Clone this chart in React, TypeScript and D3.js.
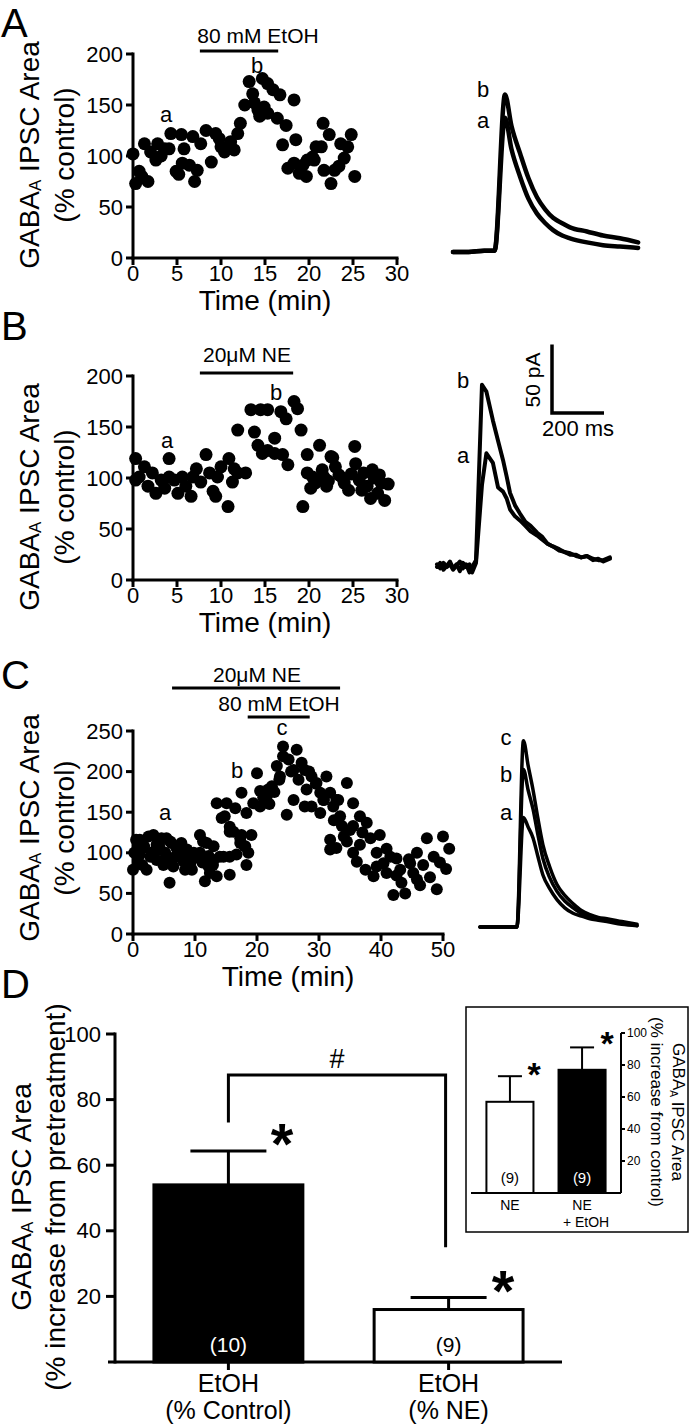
import React from 'react';
import * as d3 from 'd3';

const FONT = '"Liberation Sans", Arial, Helvetica, sans-serif';

// ---- panel A: 80 mM EtOH, [time (min), IPSC area (% control)] ----
const aPoints: [number, number][] = [
  [0, 102], [0.3, 73], [0.7, 85], [1.0, 80], [1.3, 112], [1.7, 75], [2.0, 104], [2.6, 96], [2.8, 112],
  [3.2, 100], [3.6, 107], [4.1, 107], [4.3, 122], [4.9, 85], [5.2, 82], [5.5, 121], [5.6, 93], [5.8, 107],
  [6.4, 91], [6.8, 119], [7.0, 75], [7.3, 86], [7.7, 112], [8.3, 125], [8.9, 94], [9.4, 122], [9.8, 117],
  [10.0, 109], [10.4, 104], [11.1, 114], [11.5, 106], [11.9, 122], [12.2, 132], [12.7, 150], [13.2, 173],
  [13.6, 161], [13.8, 152], [14.2, 145], [14.4, 139], [14.7, 176], [14.9, 148], [15.3, 142], [15.3, 171],
  [15.9, 165], [16.4, 137], [16.7, 160], [17.0, 111], [17.4, 130], [17.6, 88], [18.3, 155], [18.3, 93],
  [18.5, 116], [18.9, 83], [19.3, 91], [19.7, 80], [19.8, 96], [20.4, 99], [20.6, 96], [20.8, 109],
  [21.4, 109], [21.6, 132], [21.7, 86], [22.3, 121], [22.5, 73], [22.9, 86], [23.4, 90], [23.6, 112],
  [24.0, 98], [24.4, 109], [24.8, 121], [25.2, 80],
];
const aTimeTicks = [0, 5, 10, 15, 20, 25, 30];
const aAreaTicks = [0, 50, 100, 150, 200];

// ---- panel B: 20 uM NE ----
const bPoints: [number, number][] = [
  [0.3, 119], [0.7, 101], [0.3, 98], [1.3, 111], [1.7, 92], [2.2, 105], [2.6, 85], [3.2, 98], [3.6, 90],
  [4.1, 119], [4.1, 101], [4.7, 98], [5.1, 85], [5.6, 101], [6.0, 92], [6.6, 82], [6.8, 101], [7.2, 109],
  [7.7, 96], [8.3, 123], [8.7, 105], [9.1, 87], [9.4, 82], [9.6, 101], [10.0, 111], [10.8, 72], [10.9, 119],
  [11.3, 96], [11.5, 109], [11.9, 105], [12.8, 105], [11.9, 147], [13.4, 167], [13.8, 145], [14.2, 132],
  [14.5, 167], [15.3, 167], [14.7, 124], [15.3, 127], [16.1, 139], [16.1, 124], [16.8, 165], [17.4, 158],
  [17.6, 113], [17.0, 123], [18.3, 175], [18.7, 168], [19.1, 147], [19.8, 123], [19.3, 72], [19.8, 105],
  [20.4, 101], [20.2, 90], [20.7, 95], [21.2, 132], [21.0, 98], [21.5, 108], [21.7, 101], [22.0, 92],
  [22.2, 97], [22.5, 121], [22.7, 120], [23.0, 111], [23.4, 103], [23.8, 100], [24.0, 95], [24.5, 88],
  [24.8, 104], [25.2, 131], [25.3, 114], [25.7, 98], [26.0, 88], [26.2, 105], [26.6, 92], [27.0, 80],
  [27.2, 108], [27.4, 100], [27.8, 85], [28.0, 103], [28.2, 95], [28.6, 78], [29.0, 94],
];
const bTimeTicks = [0, 5, 10, 15, 20, 25, 30];
const bAreaTicks = [0, 50, 100, 150, 200];

// ---- panel C: NE then NE + EtOH ----
const cPoints: [number, number][] = [
  [0, 79], [0.2, 100], [0.5, 116], [0.8, 90], [1.1, 98], [1.1, 116], [1.1, 108], [1.4, 105], [1.5, 85],
  [1.8, 108], [2.2, 79], [2.5, 120], [2.8, 95], [3.0, 100], [3.3, 122], [3.5, 102], [3.8, 91], [3.8, 110],
  [4.2, 110], [4.4, 104], [4.6, 118], [4.9, 85], [5.2, 100], [5.4, 118], [5.4, 93], [5.9, 63], [6.0, 114],
  [6.2, 112], [6.5, 83], [6.8, 95], [7.0, 106], [7.2, 105], [7.6, 100], [7.8, 112], [8.1, 90], [8.4, 79],
  [8.7, 93], [8.7, 104], [8.8, 98], [9.2, 85], [9.5, 79], [9.5, 91], [9.8, 100], [10.3, 95], [10.8, 122],
  [10.8, 100], [11.2, 88], [11.3, 114], [11.6, 65], [11.9, 112], [12.2, 96], [12.2, 83], [12.4, 75],
  [12.9, 85], [13.0, 91], [13.0, 108], [13.5, 71], [13.5, 161], [14.0, 95], [14.3, 143], [14.6, 95],
  [14.8, 145], [15.1, 161], [15.6, 73], [15.6, 95], [15.6, 126], [15.6, 132], [16.2, 126], [16.5, 155],
  [16.7, 98], [17.3, 112], [17.3, 118], [17.5, 174], [17.5, 122], [18.0, 108], [18.1, 108], [18.3, 85],
  [18.3, 149], [18.6, 100], [19.1, 122], [19.4, 161], [20.0, 198], [20.5, 157], [20.5, 176], [21.0, 168],
  [21.6, 170], [21.8, 178], [22.0, 160], [22.4, 182], [22.8, 175], [23.2, 207], [23.6, 190], [23.7, 194],
  [24.2, 219], [24.2, 231], [24.8, 147], [25.1, 215], [25.5, 200], [25.9, 165], [25.9, 202], [26.4, 227],
  [26.7, 190], [27.2, 211], [27.7, 157], [27.7, 202], [28.0, 178], [28.4, 200], [28.8, 194], [28.8, 157],
  [29.5, 185], [29.6, 186], [30.2, 174], [30.2, 149], [30.7, 165], [30.8, 165], [31.2, 194], [31.8, 174],
  [31.8, 116], [31.8, 104], [32.3, 157], [32.4, 140], [32.8, 165], [32.8, 106], [33.1, 165], [33.4, 145],
  [33.7, 133], [34.0, 120], [34.5, 186], [34.5, 114], [35.0, 128], [35.5, 133], [35.5, 161], [35.5, 100],
  [36.1, 89], [36.6, 110], [36.6, 145], [37.0, 125], [37.5, 79], [37.7, 137], [38.3, 118], [38.8, 71],
  [39.3, 100], [39.3, 83], [39.8, 122], [40.4, 87], [40.9, 105], [40.9, 75], [41.5, 95], [42.0, 48],
  [42.5, 72], [42.5, 93], [43.1, 79], [43.3, 63], [43.9, 50], [44.5, 92], [44.7, 87], [45.2, 75],
  [45.8, 100], [45.8, 67], [46.3, 60], [46.8, 85], [47.4, 118], [47.9, 70], [48.5, 95], [49.0, 55],
  [49.5, 88], [50.0, 120], [50.5, 80], [51.0, 105],
];
const cTimeTicks = [0, 10, 20, 30, 40, 50];
const cAreaTicks = [0, 50, 100, 150, 200, 250];

// ---- example IPSC traces (ms, pA) ----
const aTraceMs = [0, 60, 120, 160, 200, 225, 258, 290, 323, 355, 385, 420, 450, 515, 577, 642, 712];
const aTraceB = [0, 0, 1, 1, 115, 92, 72, 54, 40, 31, 25, 21, 18, 15, 12, 10, 7];
const aTraceA = [0, 0, 1, 1, 98, 75, 55, 39, 28, 21, 16, 12, 10, 7, 5, 4, 3];

const bTraceMs = [0, 12, 25, 38, 50, 62, 75, 88, 100, 112, 125, 135, 150, 173, 190, 215, 235, 254, 268, 281,
  300, 319, 340, 360, 385, 405, 425, 446, 470, 490, 512, 535, 555, 577, 600, 620, 640, 665];
const bTraceB = [2, -1, 3, 0, 2, -2, 1, 4, -1, 2, -4, 0, 5, 133, 128, 107, 92, 78, 66, 54,
  45, 39, 33, 30, 25, 22, 17, 15, 13, 11, 10, 8, 7, 8, 6, 5, 5, 7];
const bTraceA = [0, 3, -2, 1, 4, -1, 2, -3, 3, 0, 2, -4, 3, 60, 83, 76, 58, 55, 50, 42,
  37, 34, 30, 26, 23, 20, 17, 15, 12, 11, 9, 9, 7, 8, 5, 6, 4, 6];

const cTraceMs = [0, 40, 80, 120, 142, 167, 185, 204, 222, 242, 268, 296, 326, 358, 390, 423, 455, 488, 545, 604];
const cTraceC = [0, 0, 0, 0, 0, 136, 118, 100, 80, 60, 44, 31, 23, 17, 12, 9, 7, 6, 4, 2];
const cTraceB = [0, 0, 0, 0, 0, 115, 100, 86, 68, 50, 36, 26, 19, 14, 10, 8, 6, 5, 3, 1];
const cTraceA = [0, 0, 0, 0, 0, 80, 73, 65, 52, 38, 28, 20, 14, 10, 8, 6, 5, 4, 2, 1];

// ---- panel D: summary ----
const dCategories = ['EtOH|(% Control)', 'EtOH|(% NE)'];
const dMeans = [54, 16];
const dErrors = [10.3, 3.7];
const dN = ['(10)', '(9)'];
const dTicks = [20, 40, 60, 80, 100];

const insetCategories = ['NE', 'NE|+ EtOH'];
const insetMeans = [57, 77];
const insetErrors = [16, 14];
const insetN = ['(9)', '(9)'];
const insetTicks = [20, 40, 60, 80, 100];

type Scale = d3.ScaleLinear<number, number>;

function GabaLabel({ x, cy, second, size = 28, rot = -90, subShift = 6 }: any) {
  const sub = Math.round(size * 0.6);
  return (
    <g fontSize={size}>
      <text transform={`translate(${x},${cy}) rotate(${rot})`} textAnchor="middle" dominantBaseline="central">
        GABA<tspan fontSize={sub} dy={subShift}>A</tspan>
        <tspan dy={-subShift}> IPSC Area</tspan>
      </text>
      <text transform={`translate(${second.x},${cy}) rotate(${rot})`} textAnchor="middle" dominantBaseline="central">
        {second.text}
      </text>
    </g>
  );
}

function TimeAxes({ x, y, xTicks, yTicks }: { x: Scale; y: Scale; xTicks: number[]; yTicks: number[] }) {
  const [x0, x1] = x.range();
  const [y0, y1] = y.range();
  return (
    <g stroke="#000" strokeWidth={3}>
      <line x1={x0} x2={x0} y1={y0} y2={y1} strokeLinecap="square" />
      <line x1={x0} x2={x1} y1={y0} y2={y0} strokeLinecap="square" />
      {yTicks.map((v) => (
        <g key={'y' + v}>
          <line x1={x0 - 7} x2={x0} y1={y(v)} y2={y(v)} />
          <text x={x0 - 10} y={y(v)} textAnchor="end" dominantBaseline="central" fontSize={22} stroke="none" fill="#000">
            {v}
          </text>
        </g>
      ))}
      {xTicks.map((v) => (
        <g key={'x' + v}>
          <line x1={x(v)} x2={x(v)} y1={y0} y2={y0 + 7} />
          <text x={x(v)} y={y0 + 23} textAnchor="middle" fontSize={22} stroke="none" fill="#000">
            {v}
          </text>
        </g>
      ))}
      <text x={(x0 + x1) / 2} y={y0 + 52} textAnchor="middle" fontSize={28} stroke="none" fill="#000">
        Time (min)
      </text>
    </g>
  );
}

function Dots({ points, x, y, r }: { points: [number, number][]; x: Scale; y: Scale; r: number }) {
  return (
    <g fill="#000">
      {points.map(([t, v], i) => (
        <circle key={i} cx={x(t)} cy={y(v)} r={r} />
      ))}
    </g>
  );
}

function Traces({ ms, series, x0, base, width, curve }: any) {
  const x = d3.scaleLinear().domain([0, 1000]).range([x0, x0 + 260]);
  const y = d3.scaleLinear().domain([0, 100]).range([base, base - 137]);
  const line = d3
    .line<number>()
    .x((_, i) => x(ms[i]))
    .y((d) => y(d))
    .curve(curve);
  return (
    <g fill="none" stroke="#000" strokeWidth={width} strokeLinejoin="round" strokeLinecap="round">
      {series.map((s: number[], i: number) => (
        <path key={i} d={line(s) || ''} />
      ))}
    </g>
  );
}

function Bars({ x, y, cats, means, errs, ns, fills, barStroke, capHalf, nFont, nY, errW }: any) {
  return (
    <g>
      {cats.map((c: string, i: number) => {
        const cx = (x(c) as number) + x.bandwidth() / 2;
        const top = y(means[i]);
        const et = y(means[i] + errs[i]);
        return (
          <g key={c}>
            <line x1={cx} x2={cx} y1={top} y2={et} stroke="#000" strokeWidth={errW} />
            <line x1={cx - capHalf} x2={cx + capHalf} y1={et} y2={et} stroke="#000" strokeWidth={errW} />
            <rect
              x={(x(c) as number) + barStroke / 2}
              y={top}
              width={x.bandwidth() - barStroke}
              height={y(0) - top}
              fill={fills[i]}
              stroke="#000"
              strokeWidth={barStroke}
            />
            <text x={cx} y={nY} textAnchor="middle" fontSize={nFont} fill={fills[i] === '#000' ? '#fff' : '#000'}>
              {ns[i]}
            </text>
          </g>
        );
      })}
    </g>
  );
}

export default function App() {
  // panel A / B / C scales
  const xA = d3.scaleLinear().domain([0, 30]).range([133, 397]);
  const yA = d3.scaleLinear().domain([0, 200]).range([258, 54]);
  const xB = d3.scaleLinear().domain([0, 30]).range([133, 397]);
  const yB = d3.scaleLinear().domain([0, 200]).range([580, 376]);
  const xC = d3.scaleLinear().domain([0, 50]).range([133, 443]);
  const yC = d3.scaleLinear().domain([0, 250]).range([934, 731]);

  // panel D
  const xD = d3.scaleBand<string>().domain(dCategories).range([115, 562]).paddingInner(0.31).paddingOuter(0.17);
  const yD = d3.scaleLinear().domain([0, 100]).range([1362, 1034]);
  const dc = (i: number) => (xD(dCategories[i]) as number) + xD.bandwidth() / 2;

  // inset
  const xI = d3.scaleBand<string>().domain(insetCategories).range([471, 621]).paddingInner(0.32).paddingOuter(0.2);
  const yI = d3.scaleLinear().domain([0, 100]).range([1193, 1033]);
  const ic = (i: number) => (xI(insetCategories[i]) as number) + xI.bandwidth() / 2;

  // scale bar (same scale as traces)
  const sbX = d3.scaleLinear().domain([0, 1000]).range([0, 260]);
  const sbY = d3.scaleLinear().domain([0, 100]).range([0, 137]);

  return (
    <svg
      width={690}
      height={1426}
      style={{ position: 'absolute', left: 0, top: 0, background: '#fff' }}
      fontFamily={FONT}
    >
      <rect width={690} height={1426} fill="#fff" />

      {/* panel letters */}
      <g fontSize={40}>
        <text x={1} y={37}>A</text>
        <text x={1} y={340}>B</text>
        <text x={1} y={689}>C</text>
        <text x={1} y={998}>D</text>
      </g>

      {/* ---------- A ---------- */}
      <GabaLabel x={29} cy={155} second={{ x: 64, text: '(% control)' }} />
      <TimeAxes x={xA} y={yA} xTicks={aTimeTicks} yTicks={aAreaTicks} />
      <text x={258} y={43} textAnchor="middle" fontSize={21}>80 mM EtOH</text>
      <line x1={xA(7.6)} x2={xA(16.5)} y1={51} y2={51} stroke="#000" strokeWidth={3} />
      <text x={166} y={122} textAnchor="middle" fontSize={22}>a</text>
      <text x={257} y={73} textAnchor="middle" fontSize={22}>b</text>
      <Dots points={aPoints} x={xA} y={yA} r={6.5} />
      <Traces ms={aTraceMs} series={[aTraceA, aTraceB]} x0={453} base={252} width={4.5} curve={d3.curveMonotoneX} />
      <text x={483} y={97} textAnchor="middle" fontSize={22}>b</text>
      <text x={483} y={128} textAnchor="middle" fontSize={22}>a</text>

      {/* ---------- B ---------- */}
      <GabaLabel x={29} cy={497} second={{ x: 64, text: '(% control)' }} />
      <TimeAxes x={xB} y={yB} xTicks={bTimeTicks} yTicks={bAreaTicks} />
      <text x={247} y={362} textAnchor="middle" fontSize={21}>20μM NE</text>
      <line x1={xB(7.6)} x2={xB(18.2)} y1={373} y2={373} stroke="#000" strokeWidth={3} />
      <text x={167} y={448} textAnchor="middle" fontSize={22}>a</text>
      <text x={276} y={400} textAnchor="middle" fontSize={22}>b</text>
      <Dots points={bPoints} x={xB} y={yB} r={6.5} />
      <Traces ms={bTraceMs} series={[bTraceA, bTraceB]} x0={437} base={567} width={4} curve={d3.curveLinear} />
      <text x={463} y={388} textAnchor="middle" fontSize={22}>b</text>
      <text x={463} y={463} textAnchor="middle" fontSize={22}>a</text>
      {/* scale bar: 50 pA / 200 ms */}
      <g stroke="#000" strokeWidth={3.5} fill="none">
        <polyline points={`552,${413 - sbY(50)} 552,413 ${552 + sbX(200)},413`} />
      </g>
      <text transform={`translate(540,380) rotate(-90)`} textAnchor="middle" fontSize={21}>50 pA</text>
      <text x={578} y={436} textAnchor="middle" fontSize={22}>200 ms</text>

      {/* ---------- C ---------- */}
      <GabaLabel x={29} cy={828} second={{ x: 64, text: '(% control)' }} />
      <TimeAxes x={xC} y={yC} xTicks={cTimeTicks} yTicks={cAreaTicks} />
      <text x={257} y={682} textAnchor="middle" fontSize={21}>20μM NE</text>
      <line x1={xC(6.3)} x2={xC(33.4)} y1={688} y2={688} stroke="#000" strokeWidth={3} />
      <text x={279} y={711} textAnchor="middle" fontSize={21}>80 mM EtOH</text>
      <line x1={xC(18.5)} x2={xC(28.5)} y1={717} y2={717} stroke="#000" strokeWidth={3} />
      <text x={165} y={820} textAnchor="middle" fontSize={22}>a</text>
      <text x={237} y={778} textAnchor="middle" fontSize={22}>b</text>
      <text x={282} y={735} textAnchor="middle" fontSize={22}>c</text>
      <Dots points={cPoints} x={xC} y={yC} r={6} />
      <Traces ms={cTraceMs} series={[cTraceA, cTraceB, cTraceC]} x0={480} base={927} width={3.5} curve={d3.curveMonotoneX} />
      <text x={506} y={745} textAnchor="middle" fontSize={22}>c</text>
      <text x={506} y={782} textAnchor="middle" fontSize={22}>b</text>
      <text x={506} y={820} textAnchor="middle" fontSize={22}>a</text>

      {/* ---------- D ---------- */}
      <GabaLabel x={21} cy={1197} second={{ x: 55, text: '(% increase from pretreatment)' }} />
      <g stroke="#000" strokeWidth={3}>
        <line x1={115} x2={115} y1={yD(0)} y2={yD(100)} strokeLinecap="square" />
        <line x1={108} x2={562} y1={yD(0)} y2={yD(0)} />
        {dTicks.map((v) => (
          <g key={v}>
            <line x1={106} x2={115} y1={yD(v)} y2={yD(v)} />
            <text x={101} y={yD(v)} textAnchor="end" dominantBaseline="central" fontSize={22} stroke="none" fill="#000">
              {v}
            </text>
          </g>
        ))}
        {dCategories.map((c, i) => (
          <line key={c} x1={dc(i)} x2={dc(i)} y1={yD(0)} y2={yD(0) + 8} />
        ))}
      </g>
      <Bars
        x={xD}
        y={yD}
        cats={dCategories}
        means={dMeans}
        errs={dErrors}
        ns={dN}
        fills={['#000', '#fff']}
        barStroke={3}
        capHalf={38}
        nFont={21}
        nY={1352}
        errW={3}
      />
      {dCategories.map((c, i) => (
        <g key={c} fontSize={25} textAnchor="middle">
          <text x={dc(i)} y={1392}>{c.split('|')[0]}</text>
          <text x={dc(i)} y={1419}>{c.split('|')[1]}</text>
        </g>
      ))}
      {/* significance bracket */}
      <polyline
        points={`${dc(0)},${yD(73)} ${dc(0)},${yD(87.5)} ${dc(1) - 3},${yD(87.5)} ${dc(1) - 3},${yD(35)}`}
        fill="none"
        stroke="#000"
        strokeWidth={3}
      />
      <text x={337} y={1068} textAnchor="middle" fontSize={27}>#</text>
      <text x={282} y={1164} textAnchor="middle" fontSize={58} fontWeight="bold">*</text>
      <text x={503} y={1311} textAnchor="middle" fontSize={58} fontWeight="bold">*</text>

      {/* ---------- inset ---------- */}
      <rect x={466} y={1007} width={222} height={225} fill="#fff" stroke="#000" strokeWidth={1.5} />
      <Bars
        x={xI}
        y={yI}
        cats={insetCategories}
        means={insetMeans}
        errs={insetErrors}
        ns={insetN}
        fills={['#fff', '#000']}
        barStroke={2}
        capHalf={12}
        nFont={15}
        nY={1183}
        errW={2}
      />
      <g stroke="#000" strokeWidth={2}>
        <line x1={471} x2={621} y1={yI(0)} y2={yI(0)} />
        <line x1={621} x2={621} y1={yI(0)} y2={yI(100)} />
        {insetTicks.map((v) => (
          <g key={v}>
            <line x1={621} x2={625} y1={yI(v)} y2={yI(v)} />
            <text x={627} y={yI(v)} dominantBaseline="central" fontSize={12} stroke="none" fill="#000">
              {v}
            </text>
          </g>
        ))}
      </g>
      {insetCategories.map((c, i) => (
        <g key={c} fontSize={14} textAnchor="middle">
          <text x={ic(i)} y={1210}>{c.split('|')[0]}</text>
          {c.split('|')[1] && <text x={ic(i) + 4} y={1227}>{c.split('|')[1]}</text>}
        </g>
      ))}
      <text x={534} y={1086} textAnchor="middle" fontSize={34} fontWeight="bold">*</text>
      <text x={607} y={1055} textAnchor="middle" fontSize={34} fontWeight="bold">*</text>
      <GabaLabel x={678} cy={1112} size={17} rot={90} subShift={4} second={{ x: 656, text: '(% increase from control)' }} />
    </svg>
  );
}
